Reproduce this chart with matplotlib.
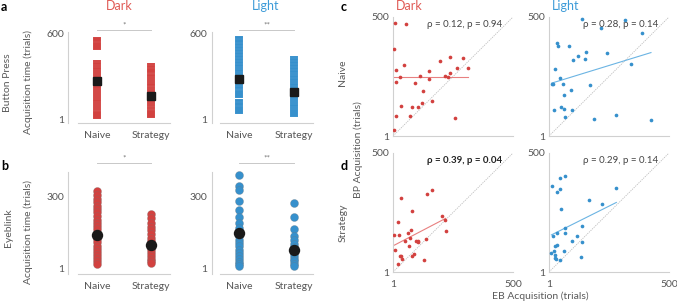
import matplotlib
matplotlib.use("Agg")
import matplotlib.pyplot as plt
import numpy as np

plt.rcParams['font.family'] = ['Lato', 'DejaVu Sans']

# ---------------- data ----------------
groups = ["Naive", "Strategy"]

# Button press acquisition (trials)
bp_dark_naive = [542, 509, 385, 370, 352, 335, 320, 305, 290, 278, 262, 250, 236, 222, 205,
                 190, 175, 160, 145, 130, 115, 100, 85, 70, 55, 40, 32]
bp_dark_strategy = [369, 355, 330, 300, 290, 270, 255, 240, 225, 210, 198, 185, 170, 160,
                    150, 135, 120, 110, 98, 85, 72, 60, 50, 43]
bp_light_naive = [553, 530, 505, 480, 460, 440, 420, 400, 378, 360, 340, 322, 305, 290, 272,
                  255, 240, 222, 205, 190, 182, 120, 95, 72]
bp_light_strategy = [415, 400, 380, 360, 340, 318, 300, 280, 262, 245, 228, 210, 195, 178,
                     160, 145, 128, 110, 95, 80, 65, 48]
bp_means_dark = [266, 167]
bp_means_light = [282, 195]

# Eyeblink acquisition (trials)
eb_dark_naive = [325, 310, 292, 280, 262, 250, 235, 220, 205, 192, 178, 165, 150, 138, 122,
                 110, 95, 82, 68, 55, 42, 30, 18]
eb_dark_strategy = [228, 212, 190, 175, 160, 145, 128, 115, 102, 90, 78, 65, 52, 40, 30, 21]
eb_light_naive = [391, 345, 328, 282, 245, 217, 192, 168, 150, 135, 120, 105, 92, 78, 65,
                  52, 40, 28, 18, 8]
eb_light_strategy = [275, 214, 164, 136, 119, 103, 90, 78, 65, 52, 40, 30, 20, 11]
eb_means_dark = [140, 98]
eb_means_light = [150, 75]

# Scatter: EB acquisition (x) vs BP acquisition (y)
c_dark_x = [7.8, 53, 3.7, 45, 12, 31, 15, 195, 240, 291, 266, 311, 150, 113, 149, 93, 216,
            229, 236, 124, 35, 79, 105, 121, 165, 12, 72, 257, 4]
c_dark_y = [475, 472, 364, 300, 279, 250, 229, 317, 331, 329, 288, 288, 275, 253, 239, 222,
            251, 250, 264, 191, 126, 122, 123, 140, 149, 83, 84, 77, 28]
c_light_x = [137, 216, 319, 388, 33, 39, 83, 155, 120, 100, 149, 244, 344, 24, 48, 61, 17,
             13, 171, 93, 65, 22, 49, 65, 97, 68, 190, 281, 425]
c_light_y = [490, 454, 486, 432, 391, 377, 380, 355, 338, 319, 323, 348, 301, 281, 244, 221,
             221, 218, 213, 195, 172, 110, 121, 113, 110, 80, 73, 90, 67]
d_dark_x = [165, 144, 35, 81, 206, 218, 21, 220, 7, 28, 76, 64, 139, 72, 49, 95, 103, 107,
            67, 11, 33, 29, 39, 78, 90, 131, 22]
d_dark_y = [344, 330, 313, 257, 236, 219, 209, 173, 157, 158, 177, 163, 140, 143, 130, 130,
            132, 125, 108, 94, 70, 66, 57, 70, 76, 50, 36]
d_light_x = [68, 47, 12, 45, 33, 281, 167, 220, 52, 140, 68, 34, 68, 19, 117, 98, 138, 36,
             27, 23, 63, 11, 26, 25, 31, 48, 133]
d_light_y = [402, 395, 361, 349, 337, 353, 304, 286, 266, 194, 185, 164, 164, 150, 151, 129,
             127, 116, 109, 91, 91, 80, 73, 58, 57, 53, 65]

# linear fit parameters (slope, intercept) as drawn
fit_c_dark = (0.0, 247)
fit_c_light = (0.31, 219)
fit_d_dark = (0.527, 110)
fit_d_light = (0.504, 151)

stats_text = ["ρ = 0.12, p = 0.94", "ρ = 0.28, p = 0.14", "ρ = 0.39, p = 0.04", "ρ = 0.29, p = 0.14"]

RED = '#D2413F'
BLUE = '#3690CC'
RED_T = '#E05A55'
BLUE_T = '#3D9BD8'
GREY_T = '#5a5a5a'
SPINE = '#d0d0d0'

W, H = 677, 303
fig = plt.figure(figsize=(W / 100, H / 100), dpi=100)


def axpx(l, t, r, b):
    return fig.add_axes([l / W, 1 - b / H, (r - l) / W, (b - t) / H])


def ftext(x, y, s, **kw):
    fig.text(x / W, 1 - y / H, s, **kw)


def style_strip(ax, ylim, yticks, offset):
    ax.set_xlim(-0.35, 1.35)
    ax.set_ylim(*ylim)
    for s in ['top', 'right']:
        ax.spines[s].set_visible(False)
    for s in ['left', 'bottom']:
        ax.spines[s].set_color(SPINE)
        ax.spines[s].set_linewidth(0.8)
    ax.spines['left'].set_position(('outward', offset))
    ax.set_xticks([0, 1])
    ax.set_xticklabels(groups)
    ax.set_yticks(yticks)
    ax.set_yticklabels([str(v) for v in yticks])
    ax.tick_params(length=0, labelsize=7.5, labelcolor='#555555')
    ax.tick_params(axis='x', pad=6)
    ax.tick_params(axis='y', pad=3)
    ax.patch.set_alpha(0)


def strip(ax, data_n, data_s, means, color, marker, ms, mms):
    for i, d in enumerate([data_n, data_s]):
        ax.plot(np.full(len(d), i), d, ls='none', marker=marker, ms=ms, color=color,
                mec=(1, 1, 1, 0.18) if marker == 's' else (0.45, 0.45, 0.45, 0.5), mew=0.35,
                clip_on=False, zorder=2)
    ax.plot([0, 1], means, ls='none', marker=marker, ms=mms, color='#1a1a1a', mec='#1a1a1a',
            clip_on=False, zorder=3)


def sig(ax, y, ystar, s):
    ax.plot([0, 1], [y, y], color='#c8c8c8', lw=0.7, clip_on=False)
    ax.text(0.5, ystar, s, ha='center', va='center', fontsize=6, color='#777777')


# --- panel a ---
ax = axpx(78, 32, 170, 123)
style_strip(ax, (-20, 607), [1, 600], 7)
strip(ax, bp_dark_naive, bp_dark_strategy, bp_means_dark, RED, 's', 5.2, 6.2)
sig(ax, 621, 652, '*')

ax = axpx(220, 32, 313, 123)
style_strip(ax, (-20, 607), [1, 600], 6)
strip(ax, bp_light_naive, bp_light_strategy, bp_means_light, BLUE, 's', 5.2, 6.2)
sig(ax, 621, 652, '**')

# --- panel b ---
ax = axpx(78, 172, 170, 274)
style_strip(ax, (-24, 405), [1, 300], 7)
strip(ax, eb_dark_naive, eb_dark_strategy, eb_means_dark, RED, 'o', 5.8, 7.2)
sig(ax, 443, 464, '*')

ax = axpx(220, 172, 313, 274)
style_strip(ax, (-24, 405), [1, 300], 6)
strip(ax, eb_light_naive, eb_light_strategy, eb_means_light, BLUE, 'o', 5.8, 7.2)
sig(ax, 443, 464, '**')


# --- scatter panels ---
def scat(box, xs, ys, fit, color, fitcolor, txt, bold, xlabels):
    ax = axpx(*box)
    ax.set_xlim(1, 500)
    ax.set_ylim(1, 500)
    for s in ['top', 'right']:
        ax.spines[s].set_visible(False)
    for s in ['left', 'bottom']:
        ax.spines[s].set_color(SPINE)
        ax.spines[s].set_linewidth(0.8)
    ax.plot([1, 500], [1, 500], color='#bdbdbd', lw=0.6, ls=(0, (1.5, 1.2)), zorder=1)
    ax.scatter(xs, ys, s=7, color=color, linewidths=0, zorder=3)
    x0, x1 = min(xs), max(xs)
    ax.plot([x0, x1], [fit[0] * x0 + fit[1], fit[0] * x1 + fit[1]], color=fitcolor, lw=0.8, zorder=2)
    ax.set_yticks([1, 500])
    ax.set_yticklabels(['1', '500'])
    ax.set_xticks([1, 500])
    if xlabels:
        ax.set_xticklabels(['1', '500'])
    else:
        ax.set_xticklabels(['', ''])
    ax.tick_params(length=0, labelsize=7.5, labelcolor='#555555')
    ax.tick_params(axis='x', pad=6)
    ax.tick_params(axis='y', pad=3)
    ax.text(0.91, 0.94, txt, transform=ax.transAxes, ha='right', va='center', fontsize=7,
            color='#222222' if bold else '#444444', fontweight='bold' if bold else 'normal')
    ax.patch.set_alpha(0)
    return ax


scat((393, 17, 513, 136), c_dark_x, c_dark_y, fit_c_dark, RED, '#E88080', stats_text[0], False, False)
scat((549, 17, 669, 136), c_light_x, c_light_y, fit_c_light, BLUE, '#6BB4E3', stats_text[1], False, False)
scat((393, 153, 513, 272), d_dark_x, d_dark_y, fit_d_dark, RED, '#E88080', stats_text[2], True, True)
scat((549, 153, 669, 272), d_light_x, d_light_y, fit_d_light, BLUE, '#6BB4E3', stats_text[3], False, True)

# --- titles & labels ---
ftext(119, 6, 'Dark', color=RED_T, fontsize=9, ha='center', va='center')
ftext(266, 6, 'Light', color=BLUE_T, fontsize=9, ha='center', va='center')
ftext(396, 6, 'Dark', color=RED_T, fontsize=9, ha='left', va='center')
ftext(552, 6, 'Light', color=BLUE_T, fontsize=9, ha='left', va='center')

for (x, y, s) in [(1, 7, 'a'), (1, 166, 'b'), (341, 7, 'c'), (341, 166, 'd')]:
    ftext(x, y, s, fontsize=9, fontweight='bold', ha='left', va='center', color='black')

ftext(8, 83, 'Button Press', rotation=90, fontsize=7.5, color=GREY_T, ha='center', va='center')
ftext(28, 82, 'Acquisition time (trials)', rotation=90, fontsize=7.5, color=GREY_T, ha='center', va='center')
ftext(8, 228, 'Eyeblink', rotation=90, fontsize=7.5, color=GREY_T, ha='center', va='center')
ftext(28, 232, 'Acquisition time (trials)', rotation=90, fontsize=7.5, color=GREY_T, ha='center', va='center')

ftext(343, 73, 'Naive', rotation=90, fontsize=7.5, color=GREY_T, ha='center', va='center')
ftext(343, 223, 'Strategy', rotation=90, fontsize=7.5, color=GREY_T, ha='center', va='center')
ftext(358, 150, 'BP Acquisition (trials)', rotation=90, fontsize=7.5, color=GREY_T, ha='center', va='center')
ftext(540, 296, 'EB Acquisition (trials)', fontsize=7.5, color=GREY_T, ha='center', va='center')

fig.savefig('out.png', dpi=100)
